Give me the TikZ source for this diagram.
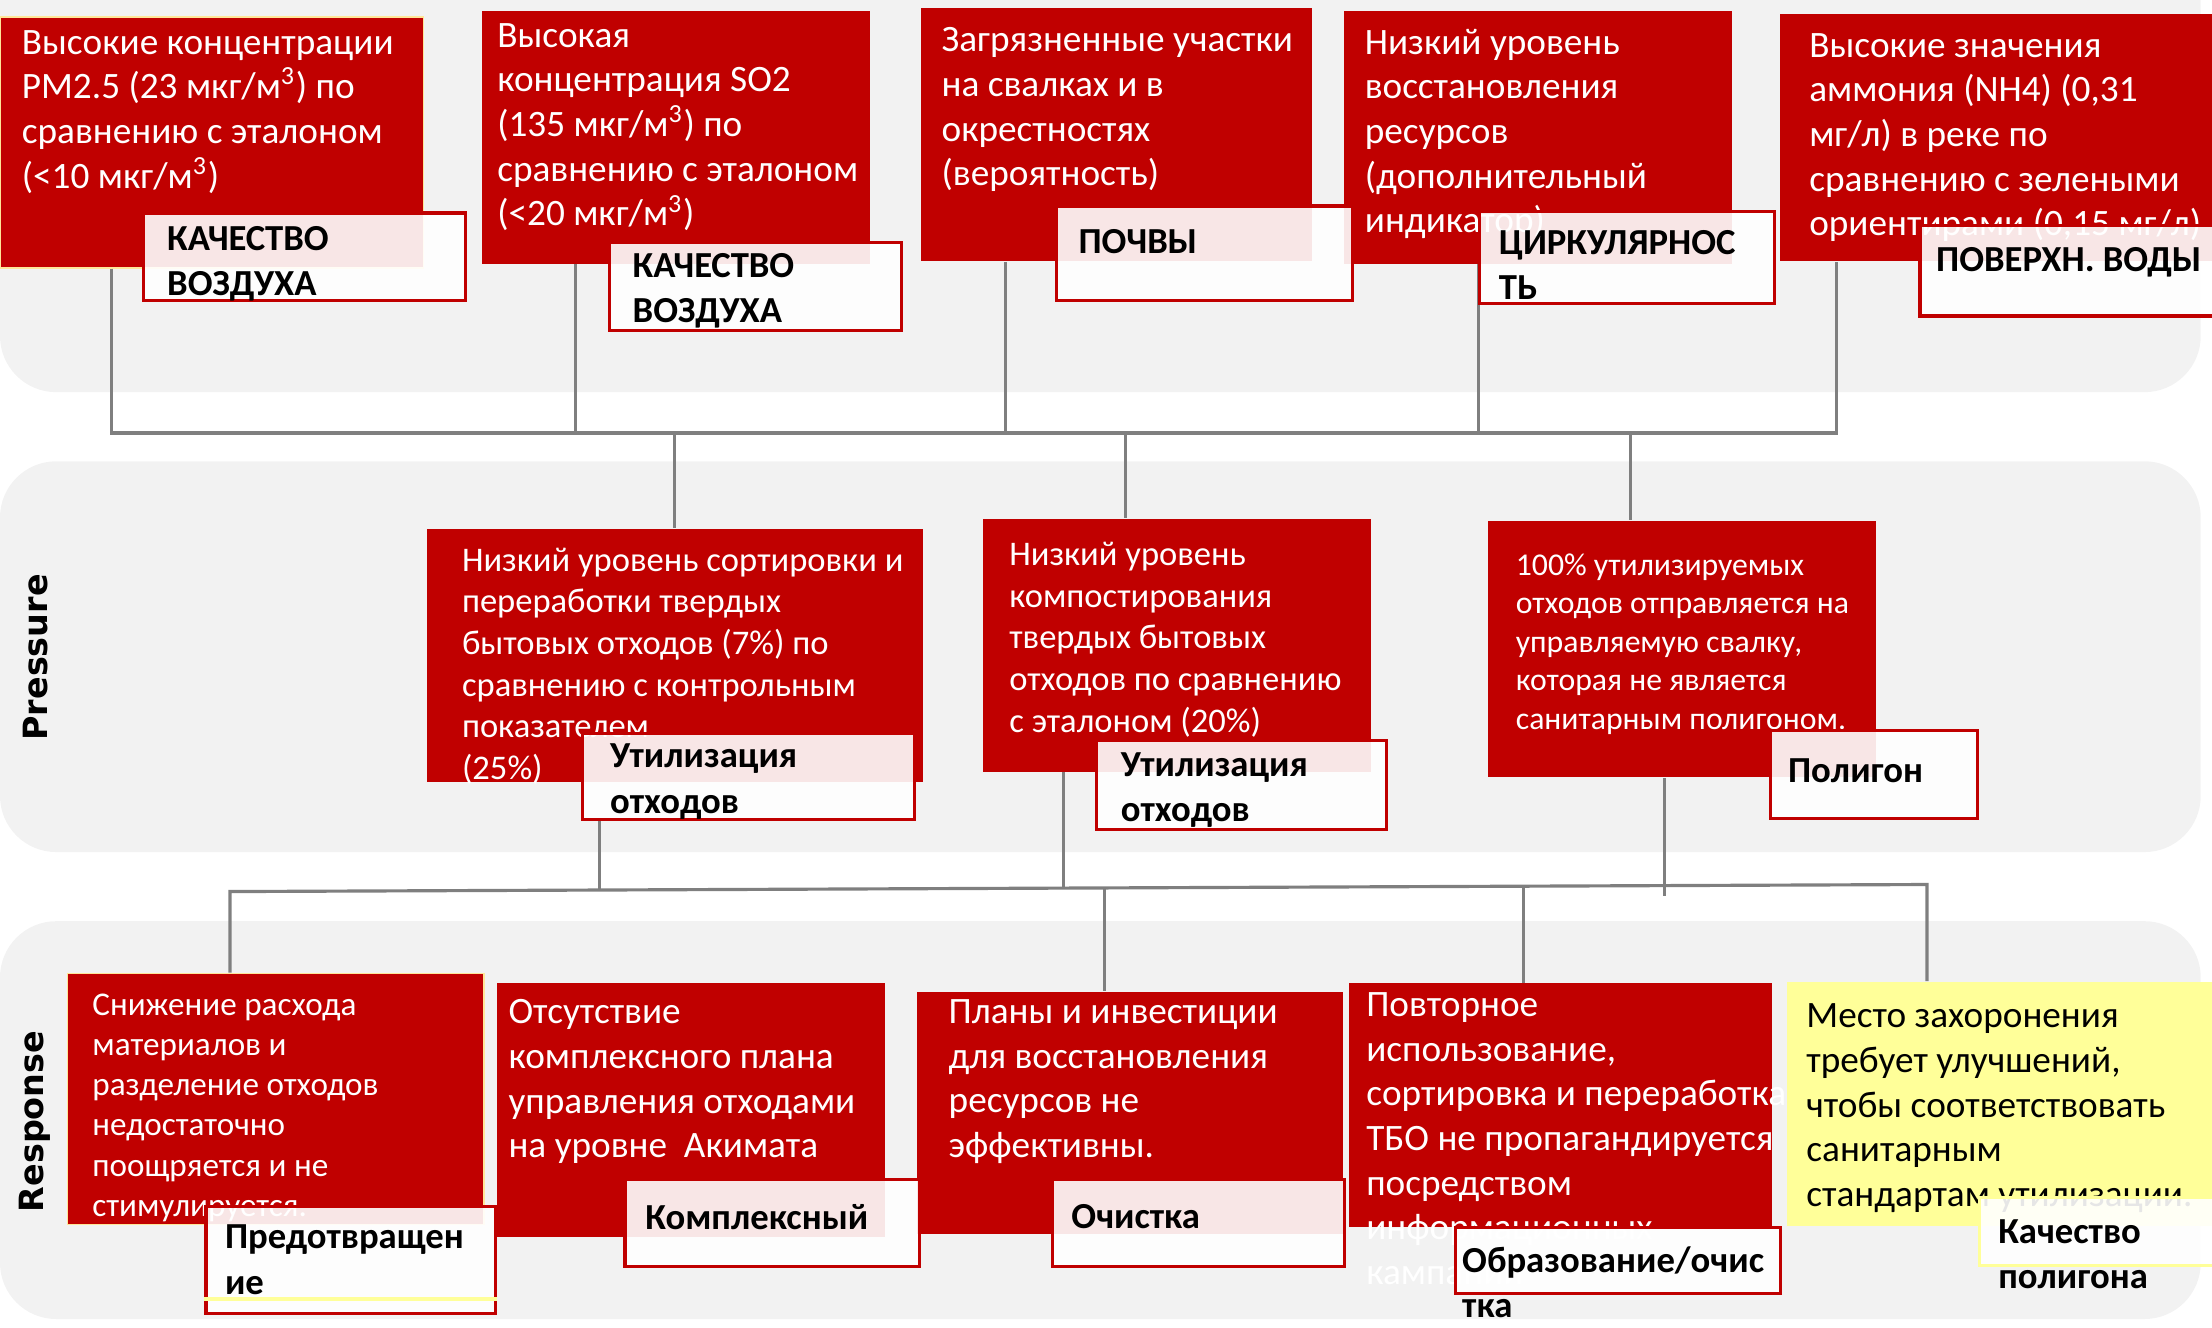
\documentclass[tikz,border=0pt]{standalone}
\usepackage{fontspec}
\setmainfont{Carlito}
\newfontfamily\axisfont{DejaVu Sans}
\usetikzlibrary{fit}
\definecolor{boxred}{HTML}{C00000}
\definecolor{bandgrey}{HTML}{F2F2F2}
\definecolor{wiregrey}{HTML}{7F7F7F}
\definecolor{paleyellow}{HTML}{FFFF99}
\definecolor{edgeyellow}{HTML}{FFE699}

\tikzset{
  redbox/.style={fill=boxred, inner sep=0pt},
  fact/.style={anchor=north west, inner sep=0pt, align=left, text=white,
    font=\fontsize{10.6}{12.72}\selectfont},
  factmid/.style={fact, font=\fontsize{9.83}{11.84}\selectfont},
  factsmall/.style={fact, font=\fontsize{9.03}{10.94}\selectfont},
  tagbox/.style={draw=boxred, line width=0.9pt, fill=white, fill opacity=0.9, inner sep=0pt},
  tagtext/.style={anchor=north west, inner sep=0pt, align=left,
    font=\bfseries\fontsize{10.44}{12.84}\selectfont},
  wire/.style={draw=wiregrey, line width=0.9pt},
  axislabel/.style={rotate=90, font=\axisfont\bfseries\fontsize{9.5}{11}\selectfont}
}

\begin{document}
\begin{tikzpicture}[x=0.4014pt, y=-0.4014pt]
\useasboundingbox (0,0) rectangle (1568,941);

% bands
\fill[bandgrey, rounded corners=16pt] (0,-40) rectangle (1560,278);
\fill[bandgrey, rounded corners=16pt] (0,327) rectangle (1560,604);
\fill[bandgrey, rounded corners=16pt] (0,653) rectangle (1560,935);
\node[axislabel] (press) at (25,466) {Pressure};
\node[axislabel] (resp) at (25,795) {Response};

% boxes
\node[redbox, draw=edgeyellow, line width=0.4pt, fit={(0,12) (300,190)}] (boxA) {};
\node[redbox, fit={(342,8) (617,187)}] (boxB) {};
\node[redbox, fit={(653,6) (930,185)}] (boxC) {};
\node[redbox, fit={(953,8) (1228,187)}] (boxD) {};
\node[redbox, fit={(1262,10) (1568,185)}] (boxE) {};
\node[redbox, fit={(303,375) (654,554)}] (boxF) {};
\node[redbox, fit={(697,368) (972,547)}] (boxG) {};
\node[redbox, fit={(1055,369) (1330,551)}] (boxH) {};
\node[redbox, draw=edgeyellow, line width=0.4pt, fit={(48,690) (343,868)}] (boxI) {};
\node[redbox, fit={(352,697) (627,877)}] (boxJ) {};
\node[redbox, fit={(650,703) (952,875)}] (boxK) {};
\node[redbox, fit={(956,697) (1256,870)}] (boxL) {};
\node[fill=paleyellow, inner sep=0pt, fit={(1267,696) (1568,869)}] (boxM) {};

% connectors
\coordinate (jA) at (79,307);
\coordinate (jB) at (408,307);
\coordinate (jC) at (713,307);
\coordinate (jD) at (1048,307);
\coordinate (jE) at (1302,307);
\coordinate (jF) at (478,307);
\coordinate (jG) at (798,307);
\coordinate (jH) at (1156,307);
\draw[wire] (boxA.south -| jA) -- (jA) -- (jE) -- (boxE.south -| jE);
\draw[wire] (boxB.south -| jB) -- (jB);
\draw[wire] (boxC.south -| jC) -- (jC);
\draw[wire] (boxD.south -| jD) -- (jD);
\draw[wire] (jF) -- (boxF.north -| jF);
\draw[wire] (jG) -- (boxG.north -| jG);
\draw[wire] (jH) -- (boxH.north -| jH);
\coordinate (kF) at (425,631);
\coordinate (kG) at (754,630);
\coordinate (kH) at (1180,635);
\coordinate (kI) at (163,632);
\coordinate (kK) at (783,630);
\coordinate (kL) at (1080,629);
\coordinate (kM) at (1366,627);
\draw[wire] (boxI.north -| kI) -- (kI) -- (kM) -- (boxM.north -| kM);
\draw[wire] (kF) -- ++(0,-50);
\draw[wire] (boxG.south -| kG) -- (kG);
\draw[wire] (boxH.south -| kH) -- (kH);
\draw[wire] (kK) -- (boxK.north -| kK);
\draw[wire] (kL) -- (boxL.north -| kL);

% texts
\node[fact] (tA) at (15,21) {Высокие концентрации\\PM2.5 (23 мкг/м\textsuperscript{3}) по\\сравнению с эталоном\\(<10 мкг/м\textsuperscript{3})};
\node[fact] (tB) at (352,16) {Высокая\\концентрация SO2\\(135 мкг/м\textsuperscript{3}) по\\сравнению с эталоном\\(<20 мкг/м\textsuperscript{3})};
\node[fact] (tC) at (667,19) {Загрязненные участки\\на свалках и в\\окрестностях\\(вероятность)};
\node[fact] (tD) at (967,20) {Низкий уровень\\восстановления\\ресурсов\\(дополнительный\\индикатор)};
\node[fact] (tE) at (1282,23) {Высокие значения\\аммония (NH4) (0,31\\мг/л) в реке по\\сравнению с зелеными\\ориентирами (0,15 мг/л)};
\node[factmid] (tF) at (327,388) {Низкий уровень сортировки и\\переработки твердых\\бытовых отходов (7\%) по\\сравнению с контрольным\\показателем\\(25\%)};
\node[factmid] (tG) at (715,384) {Низкий уровень\\компостирования\\твердых бытовых\\отходов по сравнению\\с эталоном (20\%)};
\node[factsmall] (tH) at (1074,392) {100\% утилизируемых\\отходов отправляется на\\управляемую свалку,\\которая не является\\санитарным полигоном.};
\node[fact, font=\fontsize{9.43}{11.44}\selectfont] (tI) at (65,704) {Снижение расхода\\материалов и\\разделение отходов\\недостаточно\\поощряется и не\\стимулируется.};
\node[fact] (tJ) at (360,708) {Отсутствие\\комплексного плана\\управления отходами\\на уровне~~Акимата};
\node[fact] (tK) at (672,708) {Планы и инвестиции\\для восстановления\\ресурсов не\\эффективны.};
\node[fact] (tL) at (968,703) {Повторное\\использование,\\сортировка и переработка\\ТБО не пропагандируется\\посредством\\информационных\\кампаний};
\node[fact, text=black] (tM) at (1280,711) {Место захоронения\\требует улучшений,\\чтобы соответствовать\\санитарным\\стандартам утилизации.};

% tags
\node[tagbox, fit={(102,151) (330,213)}] (gA) {};
\node[tagbox, fit={(432,172) (639,234)}] (gB) {};
\node[tagbox, fit={(749,146) (959,213)}] (gC) {};
\node[tagbox, fit={(1049,150) (1258,215)}] (gD) {};
\node[tagbox, fit={(1361,160) (1572,224)}] (gE) {};
\node[tagbox, fit={(413,520) (648,581)}] (gF) {};
\node[tagbox, fit={(777,525) (983,588)}] (gG) {};
\node[tagbox, fit={(1255,518) (1402,580)}] (gH) {};
\node[tagbox, fit={(146,855) (351,931)}] (gI) {};
\node[tagbox, fit={(443,836) (652,898)}] (gJ) {};
\node[tagbox, fit={(746,836) (953,898)}] (gK) {};
\node[tagbox, fit={(1032,870) (1262,917)}] (gL) {};
\node[tagbox, draw=paleyellow, fit={(1403,849) (1572,897)}] (gM) {};
\draw[paleyellow, line width=1.2pt] (gI.west |- 0,921) -- (gI.east |- 0,921);

\node[tagtext] (nA) at (118,160) {КАЧЕСТВО\\ВОЗДУХА};
\node[tagtext] (nB) at (448,179) {КАЧЕСТВО\\ВОЗДУХА};
\node[tagtext] (nC) at (764,162) {ПОЧВЫ};
\node[tagtext] (nD) at (1062,163) {ЦИРКУЛЯРНОС\\ТЬ};
\node[tagtext] (nE) at (1372,175) {ПОВЕРХН. ВОДЫ};
\node[tagtext] (nF) at (432,527) {Утилизация\\отходов};
\node[tagtext] (nG) at (794,533) {Утилизация\\отходов};
\node[tagtext] (nH) at (1267,537) {Полигон};
\node[tagtext] (nI) at (159,868) {Предотвращен\\ие};
\node[tagtext] (nJ) at (457,853) {Комплексный};
\node[tagtext] (nK) at (759,853) {Очистка};
\node[tagtext] (nL) at (1036,883) {Образование/очис\\тка};
\node[tagtext] (nM) at (1416,864) {Качество\\полигона};
\end{tikzpicture}
\end{document}
